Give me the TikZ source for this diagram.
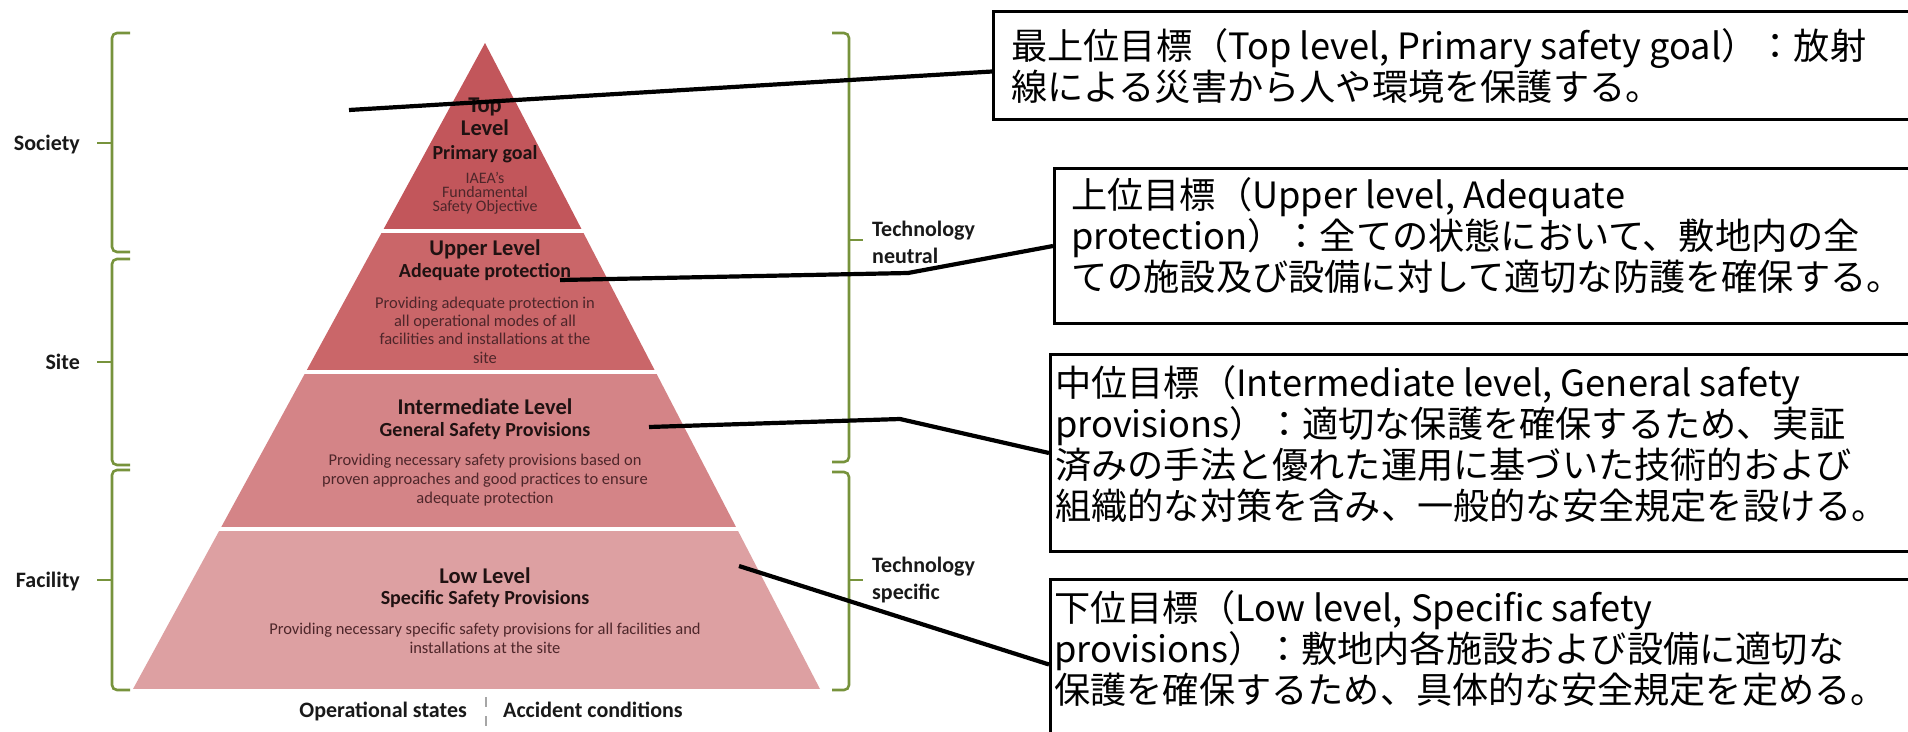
\documentclass[tikz,border=0pt]{standalone}
\usepackage{fontspec}
\setmainfont{Carlito}
\newfontfamily\jp{Noto Sans CJK JP}
\definecolor{lvA}{RGB}{194,86,91}
\definecolor{lvB}{RGB}{202,102,105}
\definecolor{lvC}{RGB}{212,132,135}
\definecolor{lvD}{RGB}{221,160,162}
\definecolor{brc}{RGB}{119,147,60}
\definecolor{hdc}{RGB}{32,18,18}
\definecolor{bdc}{RGB}{78,38,42}
\definecolor{labc}{RGB}{25,25,25}
\begin{document}
\begin{tikzpicture}[x=1pt,y=-1pt,
  hd/.style={anchor=base, text=hdc, font=\fontsize{22.5}{24}\selectfont\bfseries, inner sep=0pt},
  sh/.style={anchor=base, text=hdc, font=\fontsize{20}{22}\selectfont\bfseries, inner sep=0pt},
  bd/.style={anchor=base, text=bdc, font=\fontsize{16.5}{19}\selectfont, inner sep=0pt},
  sm/.style={anchor=base, text=bdc, font=\fontsize{16}{17}\selectfont, inner sep=0pt},
  lab/.style={text=labc, font=\fontsize{22}{27}\selectfont\bfseries, inner sep=0pt},
  brace/.style={draw=brc, line width=2.6pt, rounded corners=5pt},
  tick/.style={draw=brc, line width=2.6pt},
  jbox/.style={draw=black, line width=3pt, fill=white, inner sep=0pt, anchor=north west},
  jtxt/.style={anchor=north west, inner sep=0pt, align=left, font=\jp\fontsize{36.2}{41}\selectfont},
  conn/.style={draw=black, line width=4.2pt}]

\useasboundingbox (0,0) rectangle (1908,731);
\fill[white] (0,0) rectangle (1908,731);

% pyramid
\begin{scope}
  \clip (485,43) -- (820,689) -- (133,689) -- cycle;
  \fill[lvA] (100,30) rectangle (870,229);
  \fill[lvB] (100,233) rectangle (870,370);
  \fill[lvC] (100,374) rectangle (870,527);
  \fill[lvD] (100,531) rectangle (870,689);
\end{scope}

% top level
\node[hd] (t1) at (485,112) {Top};
\node[hd] (t2) at (485,135) {Level};
\node[sh] (t3) at (485,159) {Primary goal};
\node[sm] (t4) at (485,183) {IAEA’s};
\node[sm] (t5) at (485,197) {Fundamental};
\node[sm] (t6) at (485,211) {Safety Objective};
% upper level
\node[hd] (u1) at (485,255) {Upper Level};
\node[sh] (u2) at (485,277) {Adequate protection};
\node[bd] (u3) at (485,308) {Providing adequate protection in};
\node[bd] (u4) at (485,326) {all operational modes of all};
\node[bd] (u5) at (485,344) {facilities and installations at the};
\node[bd] (u6) at (485,363) {site};
% intermediate
\node[hd] (m1) at (485,414) {Intermediate Level};
\node[sh] (m2) at (485,436) {General Safety Provisions};
\node[bd] (m3) at (485,465) {Providing necessary safety provisions based on};
\node[bd] (m4) at (485,484) {proven approaches and good practices to ensure};
\node[bd] (m5) at (485,503) {adequate protection};
% low
\node[hd] (l1) at (485,583) {Low Level};
\node[sh] (l2) at (485,604) {Specific Safety Provisions};
\node[bd] (l3) at (485,634) {Providing necessary specific safety provisions for all facilities and};
\node[bd] (l4) at (485,653) {installations at the site};

% left braces and labels
\draw[brace] (130,33) -| (112,252) -- (130,252);
\draw[tick] (97,143) -- (112,143);
\draw[brace] (130,259) -| (112,465) -- (130,465);
\draw[tick] (97,362) -- (112,362);
\draw[brace] (130,470) -| (112,690) -- (130,690);
\draw[tick] (97,580) -- (112,580);
\node[lab, anchor=base east] (soc) at (80,150) {Society};
\node[lab, anchor=base east] (site) at (80,369) {Site};
\node[lab, anchor=base east] (fac) at (80,587) {Facility};

% right braces and labels
\draw[brace] (832,33) -| (849,462) -- (832,462);
\draw[tick] (849,240) -- (863,240);
\draw[brace] (832,472) -| (849,690) -- (832,690);
\draw[tick] (849,580) -- (863,580);
\node[lab, anchor=base west] (tn1) at (872,236) {Technology};
\node[lab, anchor=base west] (tn2) at (872,263) {neutral};
\node[lab, anchor=base west] (ts1) at (872,572) {Technology};
\node[lab, anchor=base west] (ts2) at (872,599) {specific};

% bottom labels
\node[lab, anchor=base east] (ops) at (467,717) {Operational states};
\node[lab, anchor=base west] (acc) at (503,717) {Accident conditions};
\draw[gray!70, line width=1.5pt, dash pattern=on 10pt off 9pt] (486,697) -- (486,727);

% Japanese boxes
\node[jbox, minimum width=940pt, minimum height=108pt] (box1) at (992,10) {};
\node[jbox, minimum width=880pt, minimum height=155pt] (box2) at (1053,167) {};
\node[jbox, minimum width=885pt, minimum height=197pt] (box3) at (1049,353) {};
\node[jbox, minimum width=885pt, minimum height=170pt] (box4) at (1049,578) {};

\node[jtxt] (j1) at (1011,28) {最上位目標（Top level, Primary safety goal）：放射\\線による災害から人や環境を保護する。};
\node[jtxt] (j2) at (1071,177) {上位目標（Upper level, Adequate\\protection）：全ての状態において、敷地内の全\\ての施設及び設備に対して適切な防護を確保する。};
\node[jtxt] (j3) at (1055,365) {中位目標（Intermediate level, General safety\\provisions）：適切な保護を確保するため、実証\\済みの手法と優れた運用に基づいた技術的および\\組織的な対策を含み、一般的な安全規定を設ける。};
\node[jtxt] (j4) at (1054,590) {下位目標（Low level, Specific safety\\provisions）：敷地内各施設および設備に適切な\\保護を確保するため、具体的な安全規定を定める。};

% connectors
\coordinate (s1) at (349,110);
\coordinate (s2) at (560,280);
\coordinate (k2) at (908,273);
\coordinate (s3) at (649,427);
\coordinate (k3) at (900,419);
\coordinate (s4) at (739,566);
\draw[conn] (s1) -- ([yshift=-6pt]box1.west);
\draw[conn] (s2) -- (k2) -- (box2.west);
\draw[conn] (s3) -- (k3) -- (box3.west);
\draw[conn] (s4) -- (box4.west);
\end{tikzpicture}
\end{document}
